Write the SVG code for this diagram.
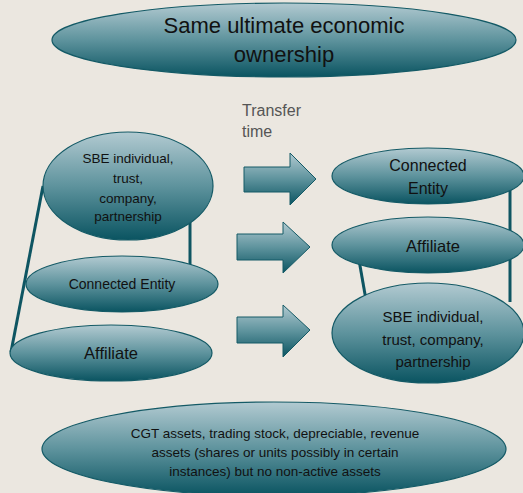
<svg xmlns="http://www.w3.org/2000/svg" width="523" height="493" viewBox="0 0 523 493">
<defs>
<linearGradient id="g" x1="0" y1="0" x2="0" y2="1">
<stop offset="0" stop-color="#b2cad1"/>
<stop offset="0.5" stop-color="#5e939d"/>
<stop offset="1" stop-color="#0a5461"/>
</linearGradient>
<style>
.n{fill:url(#g);stroke:#145a66;stroke-width:1.2}
.a{fill:url(#g);stroke:#145a66;stroke-width:1}
.t{font-family:"Liberation Sans",Arial,sans-serif;fill:#111;text-anchor:middle}
.c{stroke:#0e5562;stroke-width:3;fill:none}
</style>
</defs>
<rect width="523" height="493" fill="#ebe7e0"/>
<g id="connectors">
<line class="c" x1="43" y1="186" x2="11" y2="352"/>
<line class="c" x1="190" y1="222" x2="190" y2="266"/>
<line class="c" x1="510" y1="187" x2="510" y2="302"/>
<line class="c" x1="359" y1="260" x2="366" y2="300"/>
</g>
<g id="top">
<ellipse class="n" cx="284" cy="40" rx="232" ry="37"/>
<text class="t" x="284" y="33" font-size="22">Same ultimate economic</text>
<text class="t" x="284" y="62" font-size="22">ownership</text>
</g>
<g id="transfer-time">
<text x="242" y="116" font-family="Liberation Sans,Arial,sans-serif" font-size="16" fill="#555">Transfer</text>
<text x="242" y="137" font-family="Liberation Sans,Arial,sans-serif" font-size="16" fill="#555">time</text>
</g>
<g id="left-sbe">
<ellipse class="n" cx="128" cy="186" rx="85" ry="54"/>
<text class="t" x="128" y="163" font-size="13.5">SBE individual,</text>
<text class="t" x="128" y="183" font-size="13.5">trust,</text>
<text class="t" x="128" y="203" font-size="13.5">company,</text>
<text class="t" x="128" y="221" font-size="13.5">partnership</text>
</g>
<g id="left-connected">
<ellipse class="n" cx="122" cy="284" rx="96" ry="28"/>
<text class="t" x="122" y="289" font-size="14">Connected Entity</text>
</g>
<g id="left-affiliate">
<ellipse class="n" cx="111" cy="353" rx="101" ry="28"/>
<text class="t" x="111" y="359" font-size="16.5">Affiliate</text>
</g>
<g id="arrow1">
<path class="a" d="M244,167 H290 V153 L316,179 L290,205 V192 H244 Z"/>
</g>
<g id="arrow2">
<path class="a" d="M237,234 H283 V222 L310,247 L283,273 V260 H237 Z"/>
</g>
<g id="arrow3">
<path class="a" d="M237,317 H283 V305 L310,330 L283,357 V343 H237 Z"/>
</g>
<g id="right-connected">
<ellipse class="n" cx="428" cy="176" rx="96" ry="28"/>
<text class="t" x="428" y="171" font-size="16">Connected</text>
<text class="t" x="428" y="194" font-size="16">Entity</text>
</g>
<g id="right-affiliate">
<ellipse class="n" cx="428" cy="245" rx="96" ry="28"/>
<text class="t" x="433" y="252" font-size="16.5">Affiliate</text>
</g>
<g id="right-sbe">
<ellipse class="n" cx="428" cy="333" rx="96" ry="50"/>
<text class="t" x="433" y="322" font-size="15">SBE individual,</text>
<text class="t" x="433" y="345" font-size="15">trust, company,</text>
<text class="t" x="433" y="367" font-size="15">partnership</text>
</g>
<g id="bottom">
<ellipse class="n" cx="274" cy="449" rx="232" ry="47"/>
<text class="t" x="275" y="438" font-size="13.5">CGT assets, trading stock, depreciable, revenue</text>
<text class="t" x="275" y="457" font-size="13.5">assets (shares or units possibly in certain</text>
<text class="t" x="275" y="476" font-size="13.5">instances) but no non-active assets</text>
</g>
</svg>
